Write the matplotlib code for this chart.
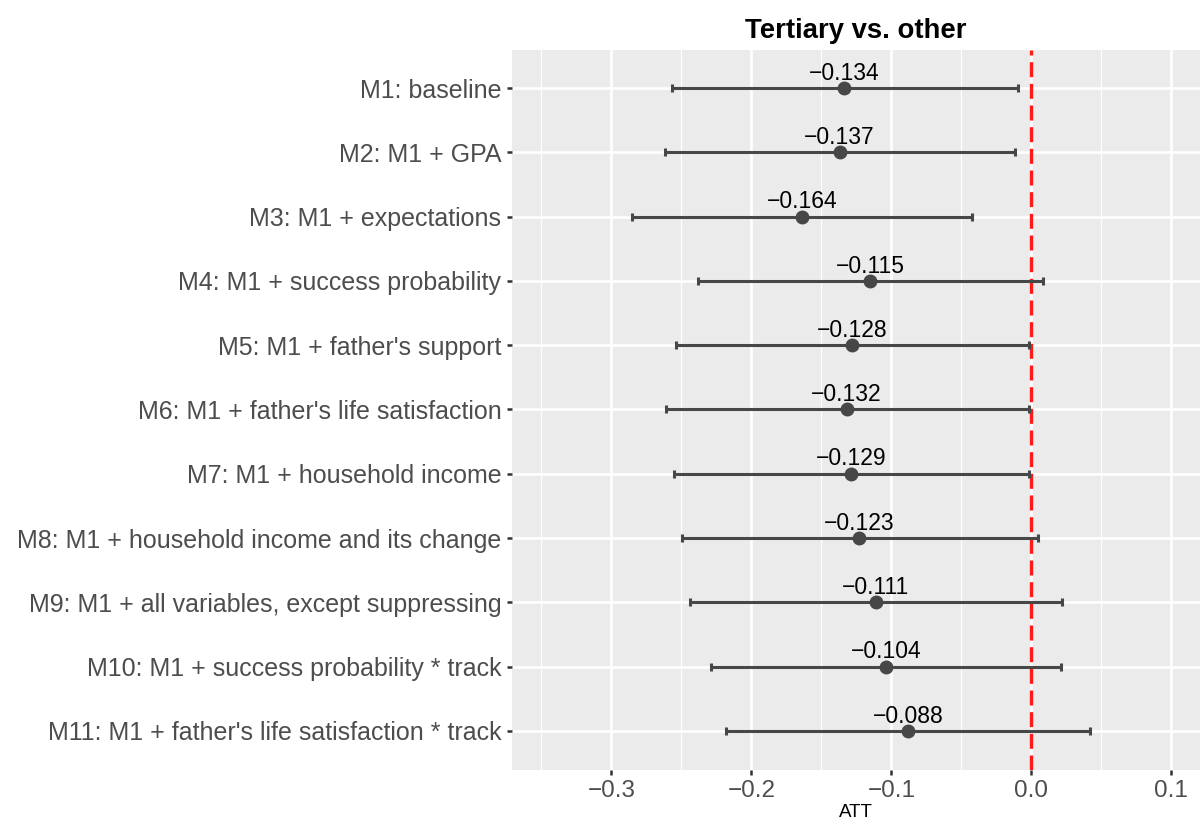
import matplotlib
matplotlib.use("Agg")
import matplotlib.pyplot as plt
from matplotlib.ticker import FixedLocator

plt.rcParams['font.family'] = ['Liberation Sans', 'DejaVu Sans']

models = [
    "M1: baseline",
    "M2: M1 + GPA",
    "M3: M1 + expectations",
    "M4: M1 + success probability",
    "M5: M1 + father's support",
    "M6: M1 + father's life satisfaction",
    "M7: M1 + household income",
    "M8: M1 + household income and its change",
    "M9: M1 + all variables, except suppressing",
    "M10: M1 + success probability * track",
    "M11: M1 + father's life satisfaction * track",
]
att = [-0.134, -0.137, -0.164, -0.115, -0.128, -0.132, -0.129, -0.123, -0.111, -0.104, -0.088]
lower = [-0.257, -0.262, -0.2855, -0.238, -0.254, -0.261, -0.2555, -0.2495, -0.244, -0.229, -0.218]
upper = [-0.0095, -0.012, -0.0425, 0.008, -0.002, -0.0015, -0.0015, 0.0045, 0.022, 0.021, 0.042]
x_ticks = [-0.3, -0.2, -0.1, 0.0, 0.1]
x_minor = [-0.35, -0.25, -0.15, -0.05, 0.05]

fig = plt.figure(figsize=(12, 8.25), dpi=100)
ax = fig.add_axes([511.5/1200, 55.5/825, (1200-511.5)/1200, 720/825])
ax.set_facecolor('#EBEBEB')
for s in ax.spines.values():
    s.set_visible(False)

n = len(models)
ypos = [n - i for i in range(n)]

ax.set_xlim(-0.3713, 0.1205)
ax.set_ylim(0.4, n + 0.6)

ax.xaxis.set_major_locator(FixedLocator(x_ticks))
ax.xaxis.set_minor_locator(FixedLocator(x_minor))
ax.set_xticklabels(["\u2212%.1f" % abs(v) if v < 0 else "%.1f" % v for v in x_ticks])
ax.set_yticks(ypos)
ax.set_yticklabels(models)

ax.grid(which='major', color='white', linewidth=1.9)
ax.grid(which='minor', axis='x', color='white', linewidth=0.9)
ax.set_axisbelow(True)

ax.tick_params(axis='both', which='major', length=3.8, width=1.8, color='#333333',
               labelcolor='#4D4D4D', pad=3.5)
ax.tick_params(axis='y', labelsize=18)
ax.tick_params(axis='x', labelsize=17.5)
ax.tick_params(axis='x', which='minor', length=0)

# red dashed vertical line at 0
ax.axvline(0, color='#FF1A1A', linewidth=2.4, linestyle=(0, (4.5, 2.0)), zorder=2)

err_lo = [a - l for a, l in zip(att, lower)]
err_hi = [u - a for a, u in zip(att, upper)]
ax.errorbar(att, ypos, xerr=[err_lo, err_hi], fmt='o', color='#474747',
            ecolor='#474747', elinewidth=2.2, capsize=2.8, capthick=2.2,
            markersize=9, zorder=3)

for a, y in zip(att, ypos):
    ax.annotate("\u2212%.3f" % abs(a), (a, y), xytext=(0, 6), textcoords='offset points',
                ha='center', va='baseline', fontsize=16.5, color='black', zorder=4)

ax.set_title("Tertiary vs. other", fontsize=19.8, fontweight='bold', pad=8)
ax.set_xlabel("ATT", fontsize=13.5, labelpad=2)

fig.savefig("out.png", dpi=100)
